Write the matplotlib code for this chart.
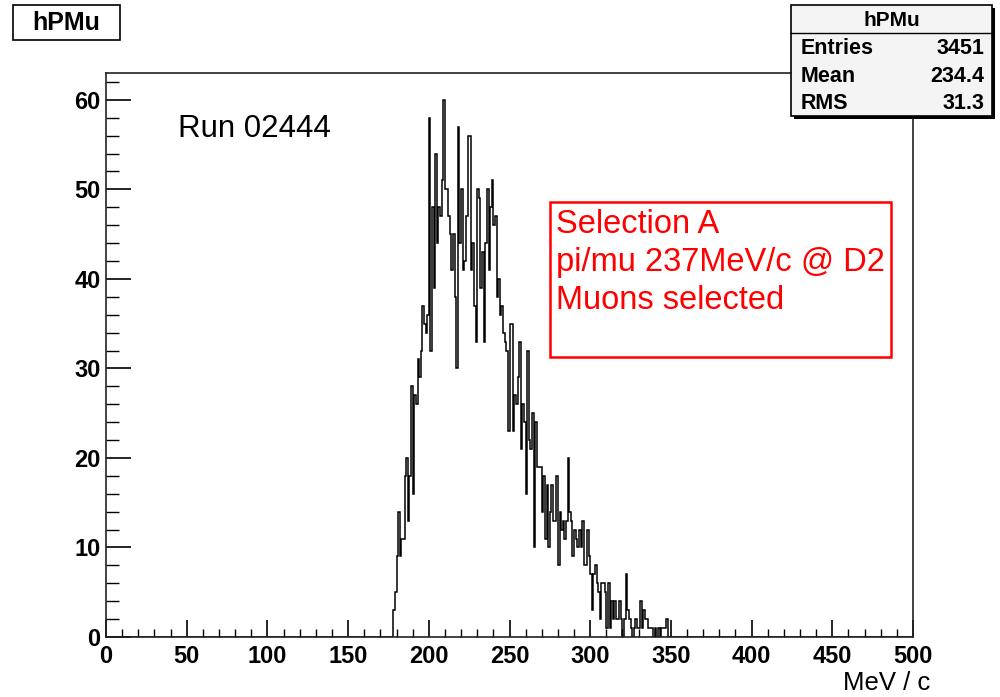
"""Recreate the ROOT hPMu momentum histogram (Run 02444, selection A)."""
import matplotlib
matplotlib.use("Agg")
import matplotlib.pyplot as plt
import numpy as np
from matplotlib.patches import Rectangle
from matplotlib.ticker import MultipleLocator

plt.rcParams["font.family"] = ["Liberation Sans", "DejaVu Sans"]

# 1 MeV/c bins from 0 to 500; counts below start at FIRST_BIN
N_BINS = 500
X_MIN, X_MAX = 0, 500
FIRST_BIN = 177
counts_a = [0, 3, 5, 9, 14, 9, 11, 11, 18, 20, 13, 18, 28, 16, 27, 26, 31, 29,
            32, 37, 35, 34, 36, 58, 32, 48, 39, 54, 44, 48, 47, 51, 60, 50]
counts_b = [50, 47, 45, 41, 45, 38, 30, 57, 44, 50, 41, 42, 47, 56, 56, 41, 44,
            37, 33, 50, 49, 39, 43, 33, 44, 50, 41, 48, 51, 46, 47, 38, 40, 36,
            37, 34, 33]
counts_c = [32, 23, 35, 35, 23, 27, 26, 29, 33, 21, 26, 24, 16, 32, 22, 21, 25,
            10, 24, 19, 19, 19, 14, 18, 11, 17, 10, 14, 17, 13, 13, 18, 8, 14,
            12, 13]
counts_d = [11, 13, 20, 14, 13, 9, 12, 11, 10, 12, 10, 13, 8, 8, 12, 9, 7, 3, 7,
            8, 6, 5, 2, 6, 6, 5, 1, 6, 1, 4, 2, 4, 2]
counts_e = [2, 4, 2, 0, 2, 7, 3, 2, 1, 0, 1, 2, 1, 1, 4, 1, 3, 2, 2, 1, 1, 1, 0,
            1, 0, 1, 0, 1, 1, 1, 2]

hist_name = "hPMu"
stats_labels = ["Entries", "Mean", "RMS"]
stats_values = ["3451", "234.4", "31.3"]
run_label = "Run 02444"
selection_lines = ["Selection A", "pi/mu 237MeV/c @ D2", "Muons selected"]
x_title = "MeV / c"

W, H = 1000, 697


def fx(px):
    return px / W


def fy(py):
    return 1 - py / H


def main() -> None:
    counts = np.zeros(N_BINS)
    tail = counts_a + counts_b + counts_c + counts_d + counts_e
    counts[FIRST_BIN:FIRST_BIN + len(tail)] = tail
    edges = np.linspace(X_MIN, X_MAX, N_BINS + 1)

    fig = plt.figure(figsize=(W / 100, H / 100), dpi=100)
    ax = fig.add_axes([fx(106), fy(637), fx(913) - fx(106), fy(73) - fy(637)])

    ax.stairs(counts, edges, color="black", linewidth=1.1)
    ax.set_xlim(X_MIN, X_MAX)
    ax.set_ylim(0, 1.05 * counts.max())

    ax.xaxis.set_major_locator(MultipleLocator(50))
    ax.xaxis.set_minor_locator(MultipleLocator(10))
    ax.yaxis.set_major_locator(MultipleLocator(10))
    ax.yaxis.set_minor_locator(MultipleLocator(2))
    ax.tick_params(axis="x", which="major", direction="in", length=12, width=1.2,
                   pad=6, labelsize=17)
    ax.tick_params(axis="x", which="minor", direction="in", length=6, width=1.0)
    ax.tick_params(axis="y", which="major", direction="in", length=18, width=1.2,
                   pad=4, labelsize=17)
    ax.tick_params(axis="y", which="minor", direction="in", length=9, width=1.0)
    for lab in ax.get_xticklabels() + ax.get_yticklabels():
        lab.set_fontweight("bold")
    for side in ax.spines.values():
        side.set_linewidth(1.2)
        side.set_color("#222222")

    fig.text(fx(930), fy(690), x_title, ha="right", va="baseline", fontsize=18.5)

    # title box
    fig.patches.append(Rectangle((fx(13), fy(40)), fx(120) - fx(13), fy(5) - fy(40),
                                 transform=fig.transFigure, fill=False,
                                 edgecolor="black", linewidth=1.2))
    fig.text(fx(66), fy(23), hist_name, ha="center", va="center", fontsize=18,
             fontweight="bold")

    # stats box with shadow
    bx0, by0, bx1, by1 = 791, 5, 992, 116
    fig.patches.append(Rectangle((fx(bx0 + 3), fy(by1 + 3)), fx(bx1 - bx0), fy(by0) - fy(by1),
                                 transform=fig.transFigure, facecolor="black",
                                 edgecolor="none"))
    fig.patches.append(Rectangle((fx(bx0), fy(by1)), fx(bx1 - bx0), fy(by0) - fy(by1),
                                 transform=fig.transFigure, facecolor="#f4f4f4",
                                 edgecolor="black", linewidth=1.2))
    fig.add_artist(plt.Line2D([fx(bx0), fx(bx1)], [fy(33), fy(33)],
                              transform=fig.transFigure, color="black", linewidth=1.0))
    fig.text(fx((bx0 + bx1) / 2), fy(20), hist_name, ha="center", va="center",
             fontsize=15, fontweight="bold")
    for i, (lab, val) in enumerate(zip(stats_labels, stats_values)):
        base = 54 + 27.5 * i
        fig.text(fx(801), fy(base), lab, ha="left", va="baseline", fontsize=15.5,
                 fontweight="bold")
        fig.text(fx(984), fy(base), val, ha="right", va="baseline", fontsize=15.5,
                 fontweight="bold")

    fig.text(fx(178), fy(137), run_label, ha="left", va="baseline", fontsize=22.5)

    # selection box
    fig.patches.append(Rectangle((fx(550), fy(357)), fx(891 - 550), fy(202) - fy(357),
                                 transform=fig.transFigure, fill=False,
                                 edgecolor="red", linewidth=1.8))
    for i, line in enumerate(selection_lines):
        fig.text(fx(556), fy(233 + 38 * i), line, ha="left", va="baseline",
                 fontsize=23.5, color="red")

    fig.savefig("out.png", dpi=100)
    plt.close(fig)


if __name__ == "__main__":
    main()
